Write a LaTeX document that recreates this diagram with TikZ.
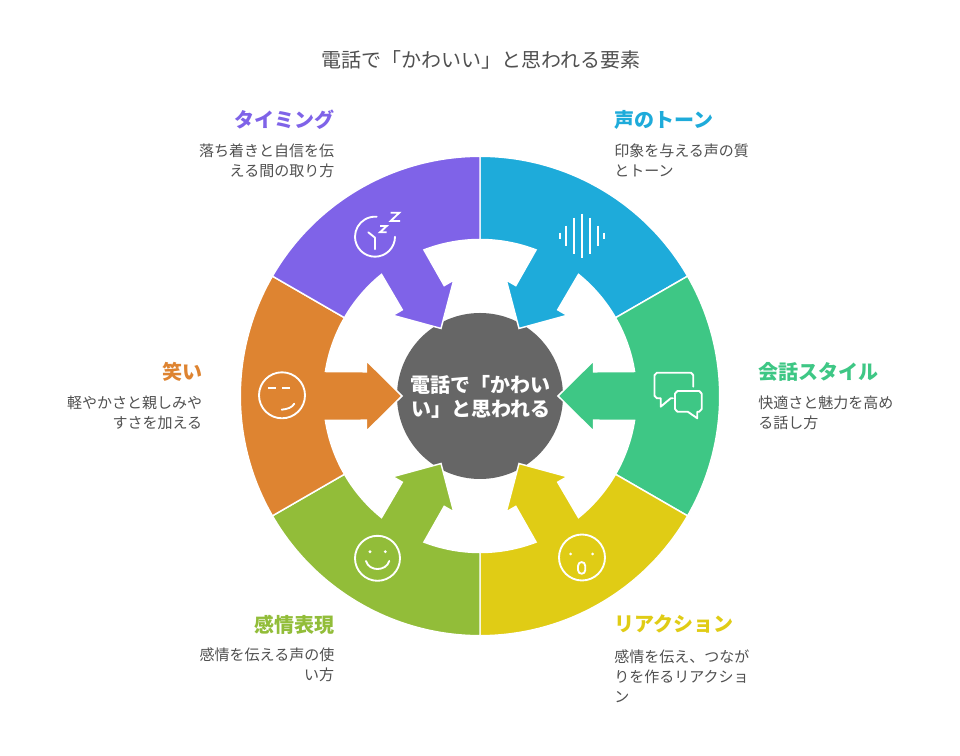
\documentclass[tikz,border=0pt]{standalone}
\usepackage{fontspec}
\setmainfont{Noto Sans CJK JP}
\definecolor{cblue}{HTML}{1EABDA}
\definecolor{cgreen}{HTML}{3EC785}
\definecolor{cyellow}{HTML}{E0CC15}
\definecolor{clime}{HTML}{92BD39}
\definecolor{corange}{HTML}{DE8431}
\definecolor{cpurple}{HTML}{7F63E8}
\definecolor{ccore}{HTML}{666666}
\definecolor{ctext}{HTML}{505050}
\newcommand{\ringpart}[2]{%
  \begin{scope}[shift={(480,360)},rotate=#1]
    \path[fill=#2,draw=white,line width=1.1pt,line join=miter]
      (-30:239.7) arc[start angle=-30,end angle=30,radius=239.7]
      -- (30:156.5) arc[start angle=30,end angle=9,radius=156.5]
      -- (113.5,24.2) -- (113.5,35.2) -- (78,0) -- (113.5,-35.2) -- (113.5,-24.2)
      -- (-9:156.5) arc[start angle=-9,end angle=-30,radius=156.5] -- cycle;
  \end{scope}}
\tikzset{
  titletext/.style={inner sep=0pt,font=\fontsize{15pt}{18pt}\selectfont,text=ctext},
  headtext/.style={inner sep=0pt,font=\fontsize{15pt}{18pt}\selectfont\bfseries},
  desctext/.style={inner sep=0pt,text=ctext,font=\fontsize{11.25pt}{15pt}\selectfont},
  coretext/.style={inner sep=0pt,align=center,text=white,font=\fontsize{15pt}{18pt}\selectfont\bfseries},
  iconline/.style={draw=white,line width=1.4pt,line cap=round,line join=round},
  icondot/.style={fill=white}
}
\begin{document}
\begin{tikzpicture}[x=0.75pt,y=0.75pt]
\useasboundingbox (0,0) rectangle (960,756);
\fill[white] (0,0) rectangle (960,756);
\node[circle,fill=ccore,minimum size=124.5pt,inner sep=0pt] (core) at (480,360) {};
\ringpart{60}{cblue}
\ringpart{0}{cgreen}
\ringpart{-60}{cyellow}
\ringpart{-120}{clime}
\ringpart{180}{corange}
\ringpart{120}{cpurple}
\begin{scope}[shift={(0,756)},yscale=-1]
  \node[titletext] (title) at (480.5,59.5) {電話で「かわいい」と思われる要素};
  \node[coretext] (corelabel) at (480.5,397) {電話で「かわい\\[0pt]い」と思われる};
  % headings
  \node[headtext,text=cpurple,anchor=east] (h1) at (335,120) {タイミング};
  \node[headtext,text=cblue,anchor=west] (h2) at (614,120) {声のトーン};
  \node[headtext,text=cgreen,anchor=west] (h3) at (758,372) {会話スタイル};
  \node[headtext,text=corange,anchor=east] (h4) at (203,372) {笑い};
  \node[headtext,text=clime,anchor=east] (h5) at (335,625) {感情表現};
  \node[headtext,text=cyellow,anchor=west] (h6) at (614,624) {リアクション};
  % descriptions
  \node[desctext,align=right,anchor=north east] (d1) at (334.5,143.5) {落ち着きと自信を伝\\える間の取り方};
  \node[desctext,align=left,anchor=north west] (d2) at (614,143.5) {印象を与える声の質\\とトーン};
  \node[desctext,align=left,anchor=north west] (d3) at (758,395.5) {快適さと魅力を高め\\る話し方};
  \node[desctext,align=right,anchor=north east] (d4) at (202.5,395.5) {軽やかさと親しみや\\すさを加える};
  \node[desctext,align=right,anchor=north east] (d5) at (334.5,648) {感情を伝える声の使\\い方};
  \node[desctext,align=left,anchor=north west] (d6) at (614,650) {感情を伝え、つなが\\りを作るリアクショ\\ン};
  % sound wave
  \foreach \bx/\bh in {560/3,566/10,574/18,582/22,590/18,598/10,604/3}
    \draw[iconline,line cap=butt] (\bx,235.7-\bh) -- (\bx,235.7+\bh);
  % speech bubbles
  \draw[iconline] (693.3,386.7) -- (693.3,375) to[out=90,in=0] (691,372.7) -- (657,372.7)
    to[out=180,in=90] (654.5,375) -- (654.5,396) to[out=-90,in=180] (657,398.3) -- (660.7,398.3)
    -- (660.7,406.7) -- (670.7,398.3) -- (673,398.3);
  \draw[iconline] (677.5,391) -- (699.2,391) to[out=0,in=90] (701.7,393.5) -- (701.7,409.2)
    to[out=-90,in=0] (699.2,411.7) -- (697.3,411.7) -- (697.3,418.3) -- (687.7,411.7) -- (677.5,411.7)
    to[out=180,in=-90] (675,409.2) -- (675,393.5) to[out=90,in=180] cycle;
  % clock with z
  \draw[iconline] (395,236.7) arc[start angle=0,end angle=275,radius=20];
  \draw[iconline] (375,249.3) -- (375,237.7) -- (368.3,232.3);
  \draw[iconline,line cap=butt,line join=miter] (380,226) -- (386.7,226) -- (380,232.3) -- (386.7,232.3);
  \draw[iconline,line cap=butt,line join=miter] (390.7,212.7) -- (399.3,212.7) -- (390.7,221) -- (400,221);
  % orange face
  \draw[iconline] (282,395.3) circle[radius=23];
  \draw[iconline,line cap=butt] (268.3,388.3) -- (276,388.3);
  \draw[iconline,line cap=butt] (282.3,388.3) -- (289.7,388.3);
  \draw[iconline] (281.7,409.7) .. controls (288,409) and (292,407.5) .. (294.3,403.7);
  % yellow face
  \draw[iconline] (582,557.5) circle[radius=23];
  \fill[icondot] (570.7,554) circle[radius=1.5];
  \fill[icondot] (592.7,554) circle[radius=1.5];
  \draw[iconline] (578,566) .. controls (578,560.8) and (585.3,560.8) .. (585.3,566) -- (585.3,570)
    .. controls (585.3,575) and (578,575) .. (578,570) -- cycle;
  % lime face
  \draw[iconline] (377.5,558.3) circle[radius=22.5];
  \fill[icondot] (370,551.7) circle[radius=1.6];
  \fill[icondot] (385.3,551.7) circle[radius=1.6];
  \draw[iconline] (366,561) .. controls (369,571.7) and (386,571.7) .. (389.3,561);
\end{scope}
\end{tikzpicture}
\end{document}
